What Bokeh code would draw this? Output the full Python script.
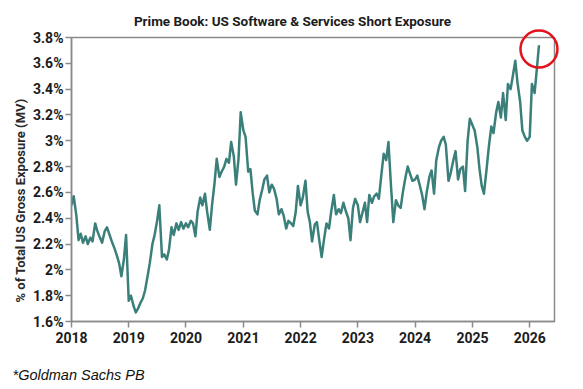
import pandas as pd
from datetime import datetime
from bokeh.plotting import figure
from bokeh.models import FixedTicker, DatetimeTickFormatter, CustomJSTickFormatter
from bokeh.core.properties import value
from bokeh.embed import file_html
from bokeh.resources import INLINE

# semi-monthly readings (1st and 15th of each month), % of total US gross exposure
v2018 = [2.50, 2.57, 2.42, 2.23, 2.28, 2.21, 2.26, 2.20, 2.25, 2.22, 2.36, 2.30,
         2.25, 2.21, 2.30, 2.33, 2.27, 2.22, 2.17, 2.12, 2.05, 1.95, 2.08, 2.27]
v2019 = [1.76, 1.80, 1.72, 1.67, 1.70, 1.74, 1.78, 1.84, 1.95, 2.05, 2.20, 2.27,
         2.38, 2.50, 2.10, 2.12, 2.08, 2.16, 2.33, 2.27, 2.36, 2.31, 2.37, 2.32]
v2020 = [2.36, 2.33, 2.38, 2.36, 2.26, 2.45, 2.56, 2.50, 2.59, 2.45, 2.31, 2.50,
         2.67, 2.86, 2.72, 2.76, 2.80, 2.86, 2.83, 2.99, 2.88, 2.66, 2.86, 3.22]
v2021 = [3.08, 3.03, 2.76, 2.78, 2.60, 2.46, 2.43, 2.54, 2.62, 2.70, 2.73, 2.60,
         2.66, 2.63, 2.55, 2.43, 2.47, 2.42, 2.32, 2.38, 2.36, 2.34, 2.45, 2.65]
v2022 = [2.50, 2.56, 2.69, 2.45, 2.37, 2.22, 2.35, 2.37, 2.22, 2.10, 2.25, 2.36,
         2.32, 2.45, 2.58, 2.43, 2.47, 2.44, 2.52, 2.46, 2.40, 2.23, 2.48, 2.55]
v2023 = [2.50, 2.37, 2.45, 2.52, 2.37, 2.58, 2.52, 2.57, 2.59, 2.55, 2.75, 2.90,
         2.85, 2.99, 2.64, 2.37, 2.54, 2.50, 2.48, 2.60, 2.72, 2.80, 2.74, 2.69]
v2024 = [2.70, 2.73, 2.65, 2.58, 2.47, 2.60, 2.72, 2.77, 2.59, 2.85, 2.95, 3.00,
         3.03, 2.97, 2.69, 2.75, 2.85, 2.92, 2.70, 2.78, 2.80, 2.61, 3.00, 3.17]
v2025 = [3.12, 3.08, 2.95, 2.78, 2.65, 2.59, 2.78, 2.95, 3.11, 3.06, 3.22, 3.30,
         3.18, 3.37, 3.16, 3.44, 3.40, 3.50, 3.62, 3.45, 3.30, 3.08, 3.03, 3.00]
v2026 = [3.03, 3.44, 3.37, 3.55, 3.74]

values = v2018 + v2019 + v2020 + v2021 + v2022 + v2023 + v2024 + v2025 + v2026
dates = pd.date_range("2018-01-01", periods=len(values), freq="SMS")

year_ticks = [2018, 2019, 2020, 2021, 2022, 2023, 2024, 2025, 2026]
y_ticks = [1.6, 1.8, 2.0, 2.2, 2.4, 2.6, 2.8, 3.0, 3.2, 3.4, 3.6, 3.8]

title_text = "Prime Book: US Software & Services Short Exposure"
ylabel_text = "% of Total US Gross Exposure (MV)"
note_text = "*Goldman Sachs PB"

FONT = "Roboto"
GREY = "#8a8a8a"
INK = "#1c1c1c"
TEAL = "#3b7f7b"

W, H = 583, 389
BL, BR, BT, BB = 71, 29, 37, 68
X0, X1 = pd.Timestamp("2018-01-01"), pd.Timestamp("2026-06-08")
Y0, Y1 = 1.6, 3.8

p = figure(width=W, height=H, x_axis_type="datetime",
           x_range=(X0, X1), y_range=(Y0, Y1),
           output_backend="svg", toolbar_location=None,
           min_border_left=BL, min_border_right=BR,
           min_border_top=BT, min_border_bottom=BB)


def at(px, py):
    """canvas pixel -> data coordinates (for placing annotation texts)"""
    fw, fh = W - BL - BR, H - BT - BB
    x = X0 + (X1 - X0) * ((px - BL) / fw)
    y = Y0 + (Y1 - Y0) * ((H - BB - py) / fh)
    return x, y


p.line(dates, values, line_color=TEAL, line_width=2.5, line_join="round")

# highlight circle on the latest reading
p.scatter([dates[-1]], [values[-1] - 0.03], size=37, fill_color=None,
          line_color="#e3121b", line_width=2.5, level="overlay")

p.grid.visible = False
p.outline_line_color = GREY
p.outline_line_width = 1.5
p.background_fill_color = "white"
p.border_fill_color = "white"

for ax in (p.xaxis[0], p.yaxis[0]):
    ax.axis_line_color = GREY
    ax.axis_line_width = 1.5
    ax.major_tick_line_color = GREY
    ax.major_tick_line_width = 1.5
    ax.major_tick_out = 6
    ax.major_tick_in = 0
    ax.minor_tick_line_color = None
    ax.major_label_text_font = FONT
    ax.major_label_text_font_style = "bold"
    ax.major_label_text_font_size = "14px"
    ax.major_label_text_color = INK

p.xaxis.ticker = FixedTicker(ticks=[datetime(y, 1, 1).timestamp() * 1000 for y in year_ticks])
p.xaxis.formatter = DatetimeTickFormatter(years="%Y", months="%Y", days="%Y",
                                          hours="%Y", minutes="%Y", seconds="%Y",
                                          milliseconds="%Y", microseconds="%Y")
p.xaxis.major_label_standoff = 4

p.yaxis.ticker = FixedTicker(ticks=y_ticks)
p.yaxis.formatter = CustomJSTickFormatter(code="return parseFloat(tick.toFixed(1)) + '%';")
p.yaxis.major_label_standoff = 2

tx, ty = at(292, 20)
p.text([tx], [ty], text=[title_text], text_font=value(FONT), text_font_style="bold",
       text_font_size="13.5px", text_color=INK, text_align="center",
       text_baseline="middle", level="overlay")
lx, ly = at(20, 200)
p.text([lx], [ly], text=[ylabel_text], angle=1.5708, text_font=value(FONT),
       text_font_style="bold", text_font_size="13px", text_color="#2a2a2a",
       text_align="center", text_baseline="middle", level="overlay")
nx, ny = at(12, 374)
p.text([nx], [ny], text=[note_text], text_font=value("Liberation Sans"),
       text_font_style="italic", text_font_size="14.5px", text_color="#111111",
       text_align="left", text_baseline="middle", level="overlay")

open("out.html", "w").write(file_html(p, INLINE))
